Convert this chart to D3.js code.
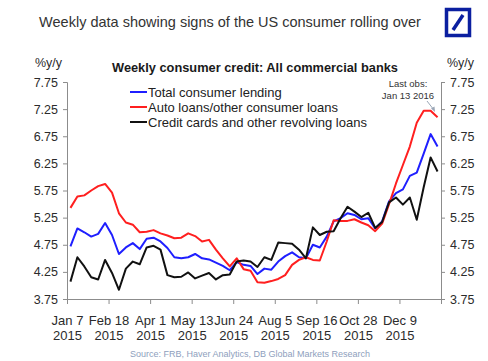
<!DOCTYPE html>
<html>
<head>
<meta charset="utf-8">
<script src="https://cdn.jsdelivr.net/npm/d3@7"></script>
<style>
  html, body { margin: 0; padding: 0; background: #fff; }
  svg { display: block; font-family: "Liberation Sans", Arial, sans-serif; }
  .axis path, .axis line { stroke: #8c8c8c; }
  .axis text { fill: #2b2b2b; font-size: 12.5px; }
  .axis.x text { font-size: 13px; }
</style>
</head>
<body>
<svg id="chart" width="488" height="361"></svg>
<script>
// weekly observations, Jan 7 2015 .. Jan 13 2016
const totalLending = [
  4.72, 5.05, 4.98, 4.90, 4.95, 5.15, 4.93, 4.58, 4.70, 4.78,
  4.67, 4.86, 4.88, 4.81, 4.69, 4.52, 4.50, 4.52, 4.58, 4.50,
  4.48, 4.42, 4.36, 4.28, 4.43, 4.38, 4.36, 4.21, 4.31, 4.29,
  4.44, 4.54, 4.61, 4.52, 4.50, 4.75, 4.70, 4.90, 5.18, 5.24,
  5.33, 5.30, 5.22, 5.24, 5.05, 5.18, 5.55, 5.70, 5.77, 6.02,
  6.08, 6.43, 6.79, 6.56,
];
const autoLoans = [
  5.43, 5.64, 5.66, 5.75, 5.83, 5.87, 5.71, 5.33, 5.16, 5.12,
  4.98, 4.99, 5.02, 4.96, 4.92, 4.87, 4.88, 4.96, 4.91, 4.81,
  4.84, 4.66, 4.50, 4.35, 4.50, 4.30, 4.27, 4.06, 4.05, 4.08,
  4.12, 4.19, 4.38, 4.47, 4.52, 4.47, 4.46, 4.81, 5.20, 5.19,
  5.19, 5.22, 5.16, 5.11, 5.00, 5.14, 5.50, 5.88, 6.22, 6.56,
  7.00, 7.22, 7.22, 7.10,
];
const creditCards = [
  4.07, 4.52, 4.35, 4.15, 4.11, 4.47, 4.23, 3.92, 4.31, 4.44,
  4.39, 4.70, 4.73, 4.66, 4.19, 4.15, 4.16, 4.24, 4.13, 4.18,
  4.23, 4.11, 4.19, 4.20, 4.44, 4.46, 4.44, 4.34, 4.52, 4.47,
  4.79, 4.78, 4.77, 4.66, 4.50, 5.07, 4.93, 4.99, 5.00, 5.24,
  5.45, 5.36, 5.26, 5.34, 5.06, 5.17, 5.53, 5.62, 5.49, 5.62,
  5.21, 5.81, 6.36, 6.10,
];

const seriesNames = [
  "Total consumer lending",
  "Auto loans/other consumer loans",
  "Credit cards and other revolving loans",
];
const seriesColors = ["#1f1fff", "#ff1f1f", "#111111"];

const xTickLabels = [
  ["Jan 7", "2015"], ["Feb 18", "2015"], ["Apr 1", "2015"],
  ["May 13", "2015"], ["Jun 24", "2015"], ["Aug 5", "2015"],
  ["Sep 16", "2015"], ["Oct 28", "2015"], ["Dec 9", "2015"],
];
const yTicks = [3.75, 4.25, 4.75, 5.25, 5.75, 6.25, 6.75, 7.25, 7.75];

const plot = { left: 67, right: 441, top: 82, bottom: 299 };
const weeks = totalLending.length;

const svg = d3.select("#chart");

const x = d3.scaleLinear()
  .domain([-0.5, weeks - 0.5])
  .range([plot.left, plot.right]);
const y = d3.scaleLinear()
  .domain([3.75, 7.75])
  .range([plot.bottom, plot.top]);

// titles
svg.append("text")
  .attr("x", 230).attr("y", 27)
  .attr("text-anchor", "middle")
  .attr("fill", "#333")
  .style("font-size", "14.5px")
  .text("Weekly data showing signs of the US consumer rolling over");

const logo = svg.append("g").attr("transform", "translate(445,8)");
logo.append("rect")
  .attr("x", 1.5).attr("y", 1.5)
  .attr("width", 23).attr("height", 26)
  .attr("fill", "#fff")
  .attr("stroke", "#0b1fa0")
  .attr("stroke-width", 3.5);
logo.append("line")
  .attr("x1", 8).attr("y1", 22)
  .attr("x2", 18).attr("y2", 7)
  .attr("stroke", "#0b1fa0")
  .attr("stroke-width", 3.5);

svg.append("text")
  .attr("x", 255).attr("y", 72)
  .attr("text-anchor", "middle")
  .attr("fill", "#1a1a1a")
  .style("font-size", "12.8px")
  .style("font-weight", "bold")
  .text("Weekly consumer credit: All commercial banks");

svg.append("text")
  .attr("x", 35).attr("y", 67)
  .attr("fill", "#2b2b2b")
  .style("font-size", "12.5px")
  .text("%y/y");
svg.append("text")
  .attr("x", 447).attr("y", 67)
  .attr("fill", "#2b2b2b")
  .style("font-size", "12.5px")
  .text("%y/y");

// axes
svg.append("g")
  .attr("class", "axis")
  .attr("transform", `translate(${plot.left},0)`)
  .call(d3.axisLeft(y).tickValues(yTicks).tickFormat(d3.format(".2f")).tickSizeOuter(0).tickSize(4).tickPadding(5));

svg.append("g")
  .attr("class", "axis")
  .attr("transform", `translate(${plot.right},0)`)
  .call(d3.axisRight(y).tickValues(yTicks).tickFormat(d3.format(".2f")).tickSizeOuter(0).tickSize(4).tickPadding(5));

const xTickValues = d3.range(-0.5, weeks, 6);
const xAxis = svg.append("g")
  .attr("class", "axis x")
  .attr("transform", `translate(0,${plot.bottom})`)
  .call(d3.axisBottom(x).tickValues(xTickValues).tickSizeOuter(0).tickSize(5).tickFormat(""));

xAxis.selectAll(".tick text").each(function (d, i) {
  const label = xTickLabels[i];
  if (!label) return;
  const t = d3.select(this).attr("y", 26).attr("dy", null);
  t.append("tspan").attr("x", 0).attr("dy", 0).text(label[0]);
  t.append("tspan").attr("x", 0).attr("dy", 15).text(label[1]);
});

// lines
const line = d3.line()
  .x((d, i) => x(i))
  .y((d) => y(d));

[totalLending, autoLoans, creditCards].forEach((values, k) => {
  svg.append("path")
    .datum(values)
    .attr("fill", "none")
    .attr("stroke", seriesColors[k])
    .attr("stroke-width", 2)
    .attr("stroke-linejoin", "round")
    .attr("d", line);
});

// legend
const legend = svg.append("g").attr("transform", "translate(130,92)");
seriesNames.forEach((name, k) => {
  const row = legend.append("g").attr("transform", `translate(0,${k * 15})`);
  row.append("line")
    .attr("x1", 0).attr("x2", 17)
    .attr("y1", 0).attr("y2", 0)
    .attr("stroke", seriesColors[k])
    .attr("stroke-width", 2);
  row.append("text")
    .attr("x", 18).attr("y", 4.5)
    .attr("fill", "#222")
    .style("font-size", "13px")
    .text(name);
});

// last observation note
svg.append("text")
  .attr("x", 408).attr("y", 87)
  .attr("text-anchor", "middle")
  .attr("fill", "#333")
  .style("font-size", "9.5px")
  .text("Last obs:");
svg.append("text")
  .attr("x", 408).attr("y", 99)
  .attr("text-anchor", "middle")
  .attr("fill", "#333")
  .style("font-size", "9.5px")
  .text("Jan 13 2016");
svg.append("line")
  .attr("x1", 427).attr("y1", 101)
  .attr("x2", 434).attr("y2", 110)
  .attr("stroke", "#9aa6b6")
  .attr("stroke-width", 1);
svg.append("path")
  .attr("d", "M435,112 L431,108.5 L434.5,106.5 Z")
  .attr("fill", "#9aa6b6");

// source
svg.append("text")
  .attr("x", 250).attr("y", 357)
  .attr("text-anchor", "middle")
  .attr("fill", "#8ea0bd")
  .style("font-size", "9px")
  .text("Source: FRB, Haver Analytics, DB Global Markets Research");
</script>
</body>
</html>
